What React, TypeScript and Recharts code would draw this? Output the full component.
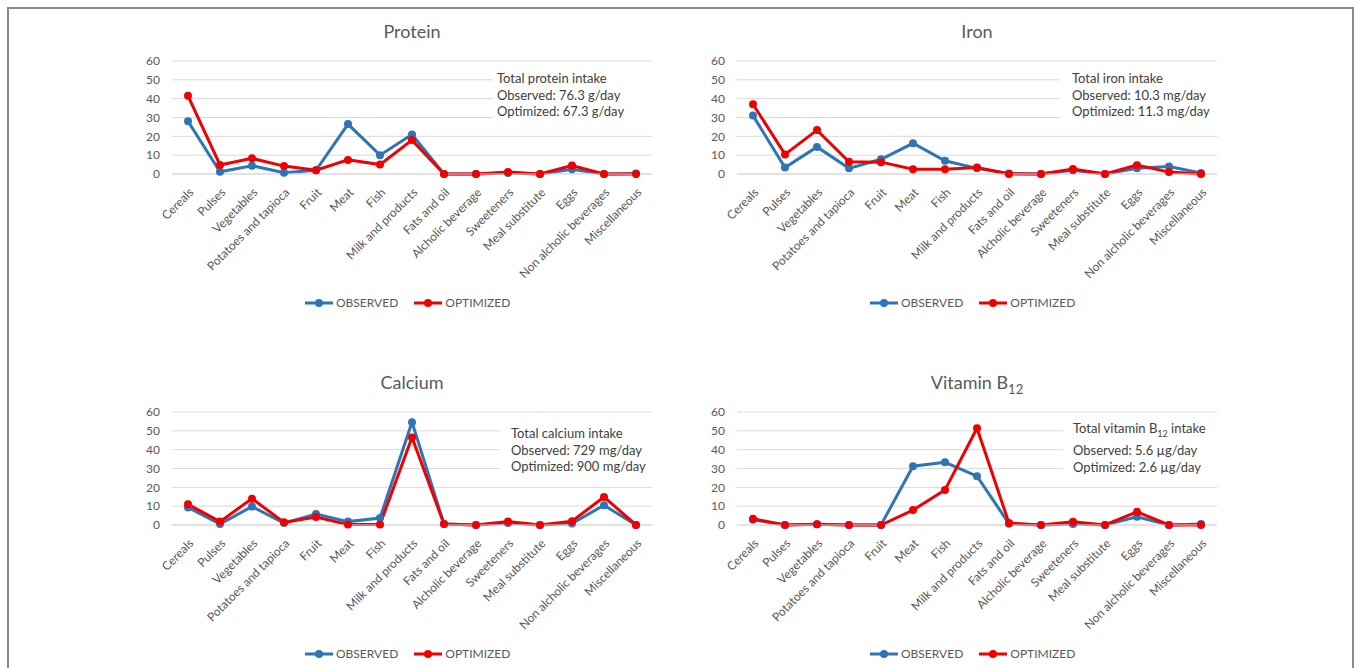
import React from 'react'
import { CartesianGrid, Line, LineChart, XAxis, YAxis } from 'recharts'

const categories = [
  'Cereals', 'Pulses', 'Vegetables', 'Potatoes and tapioca', 'Fruit', 'Meat', 'Fish',
  'Milk and products', 'Fats and oil', 'Alcholic beverage', 'Sweeteners', 'Meal substitute',
  'Eggs', 'Non alcholic beverages', 'Miscellaneous',
]
const yTicks = [0, 10, 20, 30, 40, 50, 60]

const proteinObserved = [28, 1.2, 4.4, 0.7, 2, 26.5, 10, 21, 0, 0, 0.5, 0, 2.5, 0, 0.3]
const proteinOptimized = [41.5, 4.8, 8.3, 4.2, 2, 7.5, 5, 18, 0, 0, 1, 0, 4.5, 0, 0]
const ironObserved = [31, 3.4, 14.4, 3, 7.8, 16.3, 7, 3, 0.3, 0, 2, 0, 3, 4, 0.5]
const ironOptimized = [37, 10.4, 23.3, 6.5, 6.3, 2.5, 2.5, 3.4, 0, 0, 2.7, 0, 4.7, 1, 0]
const calciumObserved = [9.3, 0.5, 9.8, 1, 5.8, 1.8, 3.7, 54.6, 0.5, 0, 1, 0, 0.8, 10.5, 0]
const calciumOptimized = [11, 1.8, 14, 1.4, 4.2, 0.2, 0.2, 46.5, 0.5, 0, 1.8, 0, 2, 14.9, 0]
const b12Observed = [2.8, 0, 0.4, 0, 0, 31.2, 33.3, 25.9, 0.7, 0, 0.5, 0, 4.4, 0, 0.5]
const b12Optimized = [3.3, 0, 0.4, 0, 0, 7.9, 18.6, 51.4, 1, 0, 1.7, 0, 7, 0, 0]

const FONT = 'Lato, "Open Sans", sans-serif'
const GREY = '#595959'
const BLUE = '#2e75b6'
const RED = '#f00000'

function CatTick({ x, y, payload }: any) {
  const px = x + 3
  const py = y + 8
  return (
    <text x={px} y={py} transform={`rotate(-45, ${px}, ${py})`} textAnchor="end" dominantBaseline="central"
      fontSize={12} fill={GREY} fontFamily={FONT}>
      {payload.value}
    </text>
  )
}

function LegendIcon({ color }: { color: string }) {
  return (
    <svg width={28} height={10} style={{ display: 'block' }}>
      <line x1={0} y1={5} x2={28} y2={5} stroke={color} strokeWidth={3} />
      <circle cx={14} cy={5} r={4} fill={color} />
    </svg>
  )
}

function Panel({ left, top, title, observed, optimized, note, boxX, noteX, noteTop }: any) {
  const rows = categories.map((name, i) => ({ name, observed: observed[i], optimized: optimized[i] }))
  return (
    <div style={{ position: 'absolute', left, top, width: 680, height: 345, fontFamily: FONT }}>
      <div style={{ position: 'absolute', left: 172, width: 480, top: 19, textAlign: 'center', fontSize: 18, color: GREY, lineHeight: '24px' }}>
        {title}
      </div>
      <LineChart width={680} height={340} data={rows} margin={{ top: 61, right: 28, left: 0, bottom: 0 }}>
        <CartesianGrid vertical={false} stroke="#d9d9d9" />
        <XAxis dataKey="name" interval={0} padding={{ left: 16, right: 16 }} tickLine={false}
          axisLine={{ stroke: '#d9d9d9' }} tick={<CatTick />} height={166} />
        <YAxis domain={[0, 60]} ticks={yTicks} interval={0} width={172} axisLine={false} tickLine={false} tickMargin={6}
          tick={{ fontSize: 12, fill: GREY, fontFamily: FONT }} />
        <Line dataKey="observed" stroke={BLUE} strokeWidth={3} dot={{ r: 4, fill: BLUE, stroke: BLUE, strokeWidth: 0 }}
          isAnimationActive={false} />
        <Line dataKey="optimized" stroke={RED} strokeWidth={3} dot={{ r: 4, fill: RED, stroke: RED, strokeWidth: 0 }}
          isAnimationActive={false} />
      </LineChart>
      <div style={{
        position: 'absolute', left: boxX, top: noteTop, width: 656 - boxX, paddingLeft: noteX - boxX,
        paddingTop: 4, paddingBottom: 6, background: '#fff', fontSize: 13, lineHeight: '16.5px', color: '#404040',
        boxSizing: 'border-box',
      }}>
        {note.map((l: any, i: number) => <div key={i} style={{ whiteSpace: 'nowrap' }}>{l}</div>)}
      </div>
      <div style={{ position: 'absolute', left: 305, top: 296, display: 'flex', alignItems: 'center', fontSize: 12, color: GREY, lineHeight: '14px' }}>
        <LegendIcon color={BLUE} />
        <span style={{ marginLeft: 3, marginRight: 16 }}>OBSERVED</span>
        <LegendIcon color={RED} />
        <span style={{ marginLeft: 3 }}>OPTIMIZED</span>
      </div>
    </div>
  )
}

export default function App() {
  return (
    <div style={{ position: 'fixed', left: 0, top: 0, width: 1362, height: 668, overflow: 'hidden', background: '#fff' }}>
      <div style={{ position: 'absolute', left: 7, top: 7, width: 1347, height: 700, border: '2px solid #8a8a8a', boxSizing: 'border-box' }} />
      <Panel left={0} top={0} title="Protein" observed={proteinObserved} optimized={proteinOptimized}
        boxX={493} noteX={497} noteTop={66}
        note={['Total protein intake', 'Observed: 76.3 g/day', 'Optimized: 67.3 g/day']} />
      <Panel left={565} top={0} title="Iron" observed={ironObserved} optimized={ironOptimized}
        boxX={495} noteX={507} noteTop={66}
        note={['Total iron intake', 'Observed: 10.3 mg/day', 'Optimized: 11.3 mg/day']} />
      <Panel left={0} top={351} title="Calcium" observed={calciumObserved} optimized={calciumOptimized}
        boxX={500} noteX={511} noteTop={70}
        note={['Total calcium intake', 'Observed: 729 mg/day', 'Optimized: 900 mg/day']} />
      <Panel left={565} top={351} title={<span>Vitamin B<sub style={{ fontSize: 13 }}>12</sub></span>}
        observed={b12Observed} optimized={b12Optimized}
        boxX={498} noteX={508} noteTop={65}
        note={[<span>Total vitamin B<sub style={{ fontSize: 9 }}>12</sub> intake</span>, 'Observed: 5.6 µg/day', 'Optimized: 2.6 µg/day']} />
    </div>
  )
}
